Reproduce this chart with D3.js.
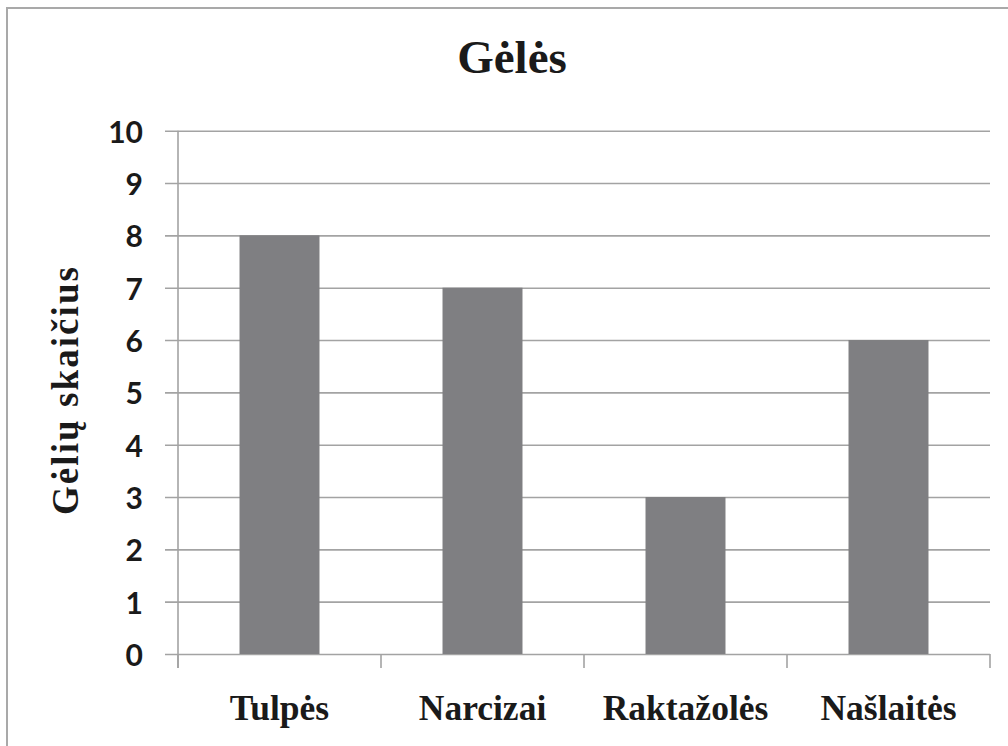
<!DOCTYPE html>
<html>
<head>
<meta charset="utf-8">
<script src="https://cdn.jsdelivr.net/npm/d3@7/dist/d3.min.js"></script>
<style>
html,body{margin:0;padding:0;background:#fff;}
svg{display:block;}
</style>
</head>
<body>
<svg id="chart" width="1008" height="746"></svg>
<script>
const categories = ["Tulpės", "Narcizai", "Raktažolės", "Našlaitės"];
const values = [8, 7, 3, 6];
const yTicks = [0, 1, 2, 3, 4, 5, 6, 7, 8, 9, 10];
const title = "Gėlės";
const yTitle = "Gėlių skaičius";

(function () {
const svg = d3.select("#chart");
const W = 1008, H = 746;
const pLeft = 178, pRight = 990, pTop = 130.7, pBottom = 654;

svg.append("rect").attr("x", 0).attr("y", 0).attr("width", W).attr("height", H).attr("fill", "#fff");
// outer border
svg.append("rect").attr("x", 7).attr("y", 8).attr("width", W + 20).attr("height", H + 20)
  .attr("fill", "none").attr("stroke", "#a9a9a9").attr("stroke-width", 2);

const x = d3.scaleBand().domain(categories).range([pLeft, pRight]).paddingInner(0.606).paddingOuter(0.303);
const xb = d3.scaleBand().domain(categories).range([pLeft, pRight]);
const y = d3.scaleLinear().domain([0, 10]).range([pBottom, pTop]);

const gridColor = "#a3a3a3";

// gridlines (extend left past the axis as ticks)
const gy = svg.append("g").attr("transform", `translate(${pRight},0)`)
  .call(d3.axisRight(y).tickValues(yTicks).tickSize(-(pRight - 165)).tickFormat(""));
gy.select(".domain").remove();
gy.selectAll(".tick line").attr("stroke", gridColor).attr("stroke-width", 1.6);

// bars
svg.append("g").selectAll("rect").data(values).join("rect")
  .attr("x", (d, i) => x(categories[i]))
  .attr("y", d => y(d))
  .attr("width", x.bandwidth())
  .attr("height", d => y(0) - y(d))
  .attr("fill", "#7f7f82");

// y tick labels
svg.append("g").selectAll("text").data(yTicks).join("text")
  .attr("x", 143).attr("y", d => y(d))
  .attr("text-anchor", "end").attr("dominant-baseline", "central")
  .attr("font-family", "Lato, 'Open Sans', sans-serif").attr("font-weight", "bold")
  .attr("font-size", 30).attr("fill", "#1a1a1a")
  .text(d => d);

// y axis line
svg.append("line").attr("x1", pLeft).attr("x2", pLeft).attr("y1", pTop).attr("y2", pBottom + 14)
  .attr("stroke", gridColor).attr("stroke-width", 1.6);

// x axis boundary ticks
const bounds = categories.map(c => xb(c)).concat([pRight]);
svg.append("g").selectAll("line").data(bounds).join("line")
  .attr("x1", d => d).attr("x2", d => d).attr("y1", pBottom).attr("y2", pBottom + 14)
  .attr("stroke", gridColor).attr("stroke-width", 1.6);

// x labels
svg.append("g").selectAll("text").data(categories).join("text")
  .attr("x", d => xb(d) + xb.bandwidth() / 2).attr("y", 720)
  .attr("text-anchor", "middle")
  .attr("font-family", "'Liberation Serif', 'Times New Roman', serif").attr("font-weight", "bold")
  .attr("font-size", 35.5).attr("fill", "#1a1a1a")
  .text(d => d);

// title
svg.append("text").attr("x", 512).attr("y", 73).attr("text-anchor", "middle")
  .attr("font-family", "'Liberation Serif', 'Times New Roman', serif").attr("font-weight", "bold")
  .attr("font-size", 47).attr("fill", "#1a1a1a").text(title);

// y title
svg.append("text").attr("transform", "translate(78,391) rotate(-90)")
  .attr("text-anchor", "middle")
  .attr("font-family", "'Liberation Serif', 'Times New Roman', serif").attr("font-weight", "bold")
  .attr("font-size", 37).attr("fill", "#1a1a1a")
  .attr("textLength", 248).attr("lengthAdjust", "spacing")
  .text(yTitle);
})();
</script>
</body>
</html>
